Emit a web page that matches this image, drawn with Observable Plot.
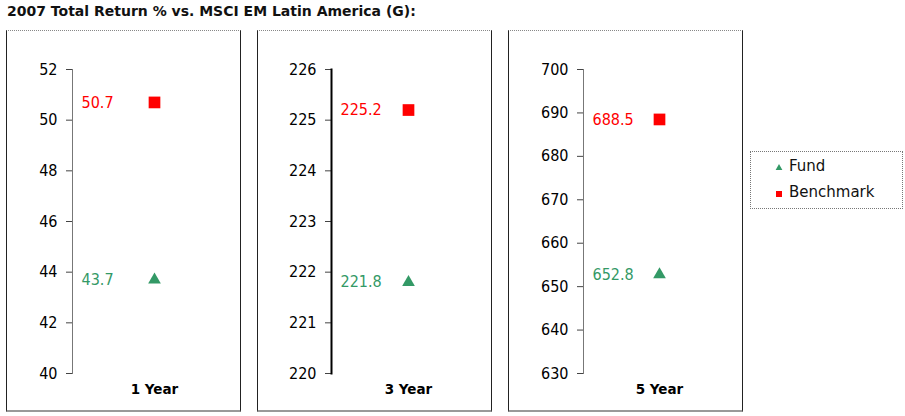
<!DOCTYPE html>
<html>
<head>
<meta charset="utf-8">
<script src="https://cdn.jsdelivr.net/npm/d3@7"></script>
<script src="https://cdn.jsdelivr.net/npm/@observablehq/plot@0.6"></script>
<style>
  body { margin: 0; background: #fff; }
  #root { position: relative; width: 905px; height: 416px; overflow: hidden; }
  #title { position: absolute; left: 7px; top: 3px; font: bold 14px "DejaVu Sans", sans-serif; color: #111; white-space: nowrap; }
  .panel { position: absolute; top: 30px; width: 233px; height: 379px; border-left: 1px solid #222; border-right: 1px solid #222; border-top: 1px dotted #888; border-bottom: 2px solid #999; background: #fff; }
  .panel svg { display: block; }
  .num { font-stretch: condensed; }
  #legend { position: absolute; left: 750px; top: 151px; width: 151px; height: 56px; border: 1px dotted #777; font: 15px "DejaVu Sans", sans-serif; color: #111; }
  .li { position: absolute; left: 23px; height: 20px; line-height: 20px; }
  .li svg { vertical-align: middle; margin-right: 5px; }
</style>
</head>
<body>
<div id="root">
  <div id="title">2007 Total Return % vs. MSCI EM Latin America (G):</div>
  <div id="legend"></div>
</div>
<script>
const periods = ["1 Year", "3 Year", "5 Year"];
const fund = [43.7, 221.8, 652.8];
const benchmark = [50.7, 225.2, 688.5];
const yMin = [40, 220, 630];
const yMax = [52, 226, 700];
const yStep = [2, 1, 10];
const seriesNames = ["Fund", "Benchmark"];
const seriesColors = ["#339966", "#ff0000"];
const seriesSymbols = ["triangle", "square"];
const seriesR = [4.7, 6.6];

const panelLeft = [6, 257, 508];
const marginLefts = [65, 73, 74];
const marginRights = [5, 6, 7];
const axisStroke = [1, 2, 1];
const axisColor = ["#777", "#000", "#777"];

const root = document.getElementById("root");
const numFont = '"DejaVu Sans Condensed", "DejaVu Sans", sans-serif';

periods.forEach((p, i) => {
  const rows = [
    {period: p, series: seriesNames[0], value: fund[i]},
    {period: p, series: seriesNames[1], value: benchmark[i]}
  ];
  const ticks = d3.range(yMin[i], yMax[i] + yStep[i] / 2, yStep[i]);
  const chart = Plot.plot({
    width: 233,
    height: 379,
    marginLeft: marginLefts[i],
    marginRight: marginRights[i],
    marginTop: 38,
    marginBottom: 37,
    style: {background: "#fff", overflow: "visible"},
    x: {type: "point", domain: [p], axis: null},
    y: {domain: [yMin[i], yMax[i]], axis: null},
    color: {domain: seriesNames, range: seriesColors},
    symbol: {domain: seriesNames, range: seriesSymbols},
    marks: [
      Plot.axisY({ticks, tickFormat: d3.format("d"), tickSize: 6, tickPadding: 9, stroke: "#444", fontSize: 16, fontFamily: numFont, className: "num", color: "#000", label: null}),
      Plot.frame({anchor: "left", stroke: axisColor[i], strokeWidth: axisStroke[i]}),
      Plot.axisX({tickSize: 0, tickPadding: 11, fontSize: 13.5, fontWeight: "bold", fontFamily: '"DejaVu Sans", sans-serif', color: "#000", label: null}),
      ...seriesNames.map((s, k) =>
        Plot.dot(rows.filter(d => d.series === s), {x: "period", y: "value", symbol: "series", fill: "series", r: seriesR[k], stroke: null})
      ),
      Plot.text(rows, {y: "value", frameAnchor: "left", dx: 9, textAnchor: "start", text: d => d.value.toFixed(1), fill: "series", fontSize: 16, fontFamily: numFont, className: "num"})
    ]
  });
  const div = document.createElement("div");
  div.className = "panel";
  div.style.left = panelLeft[i] + "px";
  div.appendChild(chart);
  root.appendChild(div);
});

// legend
const legend = document.getElementById("legend");
seriesNames.forEach((name, k) => {
  const item = document.createElement("div");
  item.className = "li";
  item.style.top = (4 + k * 26) + "px";
  const sw = d3.create("svg").attr("width", 10).attr("height", 12);
  const sym = k === 0 ? d3.symbol(d3.symbolTriangle, 20) : d3.symbol(d3.symbolSquare, 36);
  sw.append("path").attr("d", sym()).attr("transform", "translate(5,7)").attr("fill", seriesColors[k]);
  item.appendChild(sw.node());
  item.appendChild(document.createTextNode(name));
  legend.appendChild(item);
});
</script>
</body>
</html>
